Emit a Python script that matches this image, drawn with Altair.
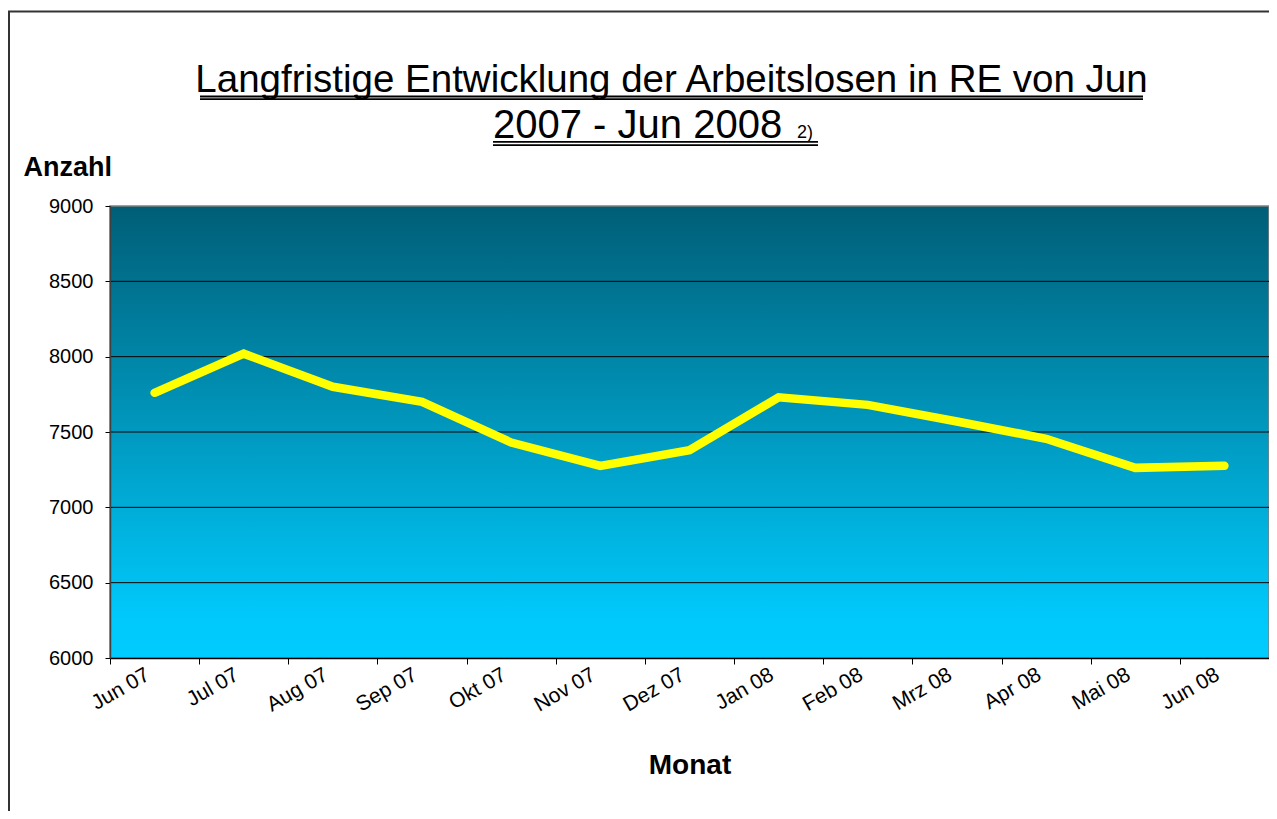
import altair as alt
import pandas as pd

months = ["Jun 07", "Jul 07", "Aug 07", "Sep 07", "Okt 07", "Nov 07", "Dez 07",
          "Jan 08", "Feb 08", "Mrz 08", "Apr 08", "Mai 08", "Jun 08"]
values = [7760, 8020, 7800, 7700, 7430, 7275, 7380, 7730, 7680, 7570, 7455, 7262, 7276]
y_ticks = [6000, 6500, 7000, 7500, 8000, 8500, 9000]
grid_values = [6500, 7000, 7500, 8000, 8500]

title_line1 = "Langfristige Entwicklung der Arbeitslosen in RE von Jun"
title_line2 = "2007 - Jun 2008"
title_note = "2)"
y_title = "Anzahl"
x_title = "Monat"

FONT = "Liberation Sans"
W, H = 1159, 452

df = pd.DataFrame({"Monat": months, "Anzahl": values})
grid_df = pd.DataFrame({"g": grid_values})
one = pd.DataFrame({"a": [0]})

x_enc = alt.X(
    "Monat:N", sort=months, bandPosition=0.5,
    scale=alt.Scale(type="band", paddingInner=0, paddingOuter=0),
    axis=alt.Axis(
        title=x_title, titleFont=FONT, titleFontSize=28, titleFontWeight="bold",
        titleColor="black", titleY=115, titleBaseline="alphabetic",
        labelFont=FONT, labelFontSize=21, labelColor="black", labelAngle=-30,
        labelAlign="right", labelBaseline="middle", labelPadding=9, labelOffset=-7,
        tickBand="extent", tickSize=6, tickColor="black", domainColor="black",
        domainWidth=1.5, grid=False, zindex=1,
    ),
)
y_scale = alt.Scale(domain=[6000, 9000], nice=False, zero=False)
y_enc = alt.Y(
    "Anzahl:Q", scale=y_scale,
    axis=alt.Axis(
        values=y_ticks, format="d", title=y_title, titleFont=FONT, titleFontSize=27,
        titleFontWeight="bold", titleColor="black", titleAngle=0,
        titleAlign="left", titleBaseline="alphabetic", titleX=-87, titleY=-31,
        labelFont=FONT, labelFontSize=20, labelColor="black", labelPadding=12,
        tickSize=5, tickColor="black", domainColor="#404040", domainWidth=1.5,
        grid=False, zindex=1,
    ),
)

gradient = alt.LinearGradient(
    gradient="linear", x1=0, x2=0, y1=0, y2=1,
    stops=[alt.GradientStop(color="#005E77", offset=0),
           alt.GradientStop(color="#0093B8", offset=0.45),
           alt.GradientStop(color="#00C8FA", offset=0.9),
           alt.GradientStop(color="#00CCFF", offset=1)],
)

bg = alt.Chart(one).mark_rect(fill=gradient, stroke="#808080", strokeWidth=1.5).encode(
    x=alt.value(0), x2=alt.value("width"), y=alt.value(0), y2=alt.value("height")
)

grid = alt.Chart(grid_df).mark_rule(color="black", strokeWidth=1).encode(
    y=alt.Y("g:Q", scale=y_scale), x=alt.value(0), x2=alt.value("width")
)

line = alt.Chart(df).mark_line(
    color="#FFFF00", strokeWidth=8.5, strokeCap="round", strokeJoin="miter"
).encode(x=x_enc, y=y_enc)

t1 = alt.Chart(one).mark_text(font=FONT, fontSize=38.5, align="center", baseline="alphabetic", color="black").encode(
    x=alt.value(561.5), y=alt.value(-114), text=alt.value(title_line1))
t2 = alt.Chart(one).mark_text(font=FONT, fontSize=40, align="left", baseline="alphabetic", color="black").encode(
    x=alt.value(383), y=alt.value(-68), text=alt.value(title_line2))
t3 = alt.Chart(one).mark_text(font=FONT, fontSize=18, align="left", baseline="alphabetic", color="black").encode(
    x=alt.value(687), y=alt.value(-68), text=alt.value(title_note))

def uline(x0, x1, y):
    return alt.Chart(one).mark_rule(color="black", strokeWidth=1.8).encode(
        x=alt.value(x0), x2=alt.value(x1), y=alt.value(y))

underlines = [uline(90, 1033, -109.5), uline(90, 1033, -106.8),
              uline(383, 708, -64.2), uline(383, 708, -60.8)]

border = alt.Chart(one).mark_rect(fill=None, stroke="#333333", strokeWidth=2).encode(
    x=alt.value(-101), x2=alt.value(2000), y=alt.value(-194.5), y2=alt.value(2000))

chart = alt.layer(bg, grid, line, t1, t2, t3, *underlines, border).properties(
    width=W, height=H,
    autosize=alt.AutoSizeParams(type="none"),
    padding={"left": 102, "top": 198, "right": 0, "bottom": 153},
).configure_view(stroke=None).configure(background="white")

chart.save("out.html", embed_options={"renderer": "svg", "actions": False})
